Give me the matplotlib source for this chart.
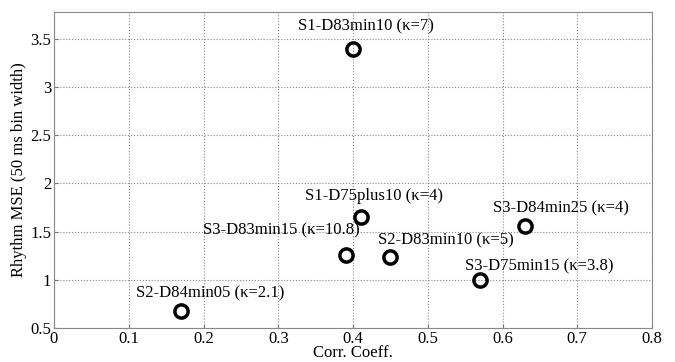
import matplotlib
matplotlib.use('Agg')
import matplotlib.pyplot as plt

# data
names = ['S1-D83min10 (\u03ba=7)', 'S1-D75plus10 (\u03ba=4)', 'S3-D83min15 (\u03ba=10.8)',
         'S2-D83min10 (\u03ba=5)', 'S3-D84min25 (\u03ba=4)', 'S3-D75min15 (\u03ba=3.8)',
         'S2-D84min05 (\u03ba=2.1)']
corr = [0.40, 0.41, 0.39, 0.45, 0.63, 0.57, 0.17]
mse = [3.40, 1.65, 1.26, 1.24, 1.56, 1.00, 0.68]
label_x = [0.326, 0.336, 0.199, 0.433, 0.587, 0.550, 0.110]
label_y = [3.63, 1.87, 1.51, 1.41, 1.74, 1.14, 0.86]

plt.rcParams['font.family'] = ['Liberation Serif', 'DejaVu Serif']

fig = plt.figure(figsize=(6.75, 3.62), dpi=100)
ax = fig.add_axes([0.08, 0.094, 0.886, 0.873])
ax.plot(corr, mse, 'o', mfc='none', mec='black', ms=9.5, mew=2.5, zorder=3)
for n, x, y in zip(names, label_x, label_y):
    ax.text(x, y, n, fontsize=12, va='center', ha='left')

ax.set_xlim(0, 0.8)
ax.set_ylim(0.5, 3.78)
ax.set_xticks([0, 0.1, 0.2, 0.3, 0.4, 0.5, 0.6, 0.7, 0.8])
ax.set_xticklabels(['0', '0.1', '0.2', '0.3', '0.4', '0.5', '0.6', '0.7', '0.8'])
ax.set_yticks([0.5, 1, 1.5, 2, 2.5, 3, 3.5])
ax.set_yticklabels(['0.5', '1', '1.5', '2', '2.5', '3', '3.5'])
ax.grid(True, linestyle=':', color='#888888', linewidth=0.8)
ax.tick_params(labelsize=12, direction='in', length=3, color='#777777', pad=2)
for s in ax.spines.values():
    s.set_color('#888888')
ax.set_xlabel('Corr. Coeff.', fontsize=12, labelpad=-1)
ax.set_ylabel('Rhythm MSE (50 ms bin width)', fontsize=12, labelpad=2)

fig.savefig('out.png', dpi=100)
